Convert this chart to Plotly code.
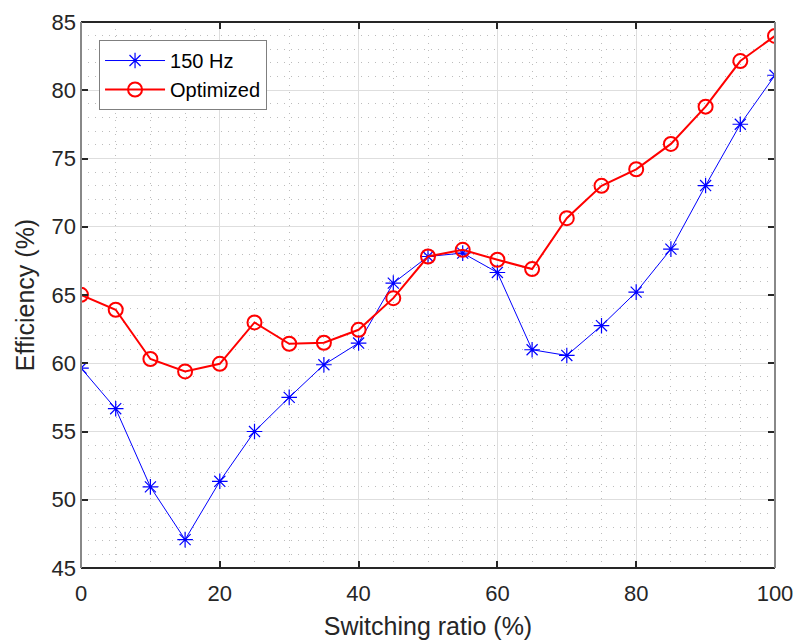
import plotly.graph_objects as go

ratio = [0, 5, 10, 15, 20, 25, 30, 35, 40, 45, 50, 55, 60, 65, 70, 75, 80, 85, 90, 95, 100]
eff_150hz = [59.65, 56.67, 50.94, 47.08, 51.35, 55.0, 57.5, 59.89, 61.48, 65.87, 67.82, 68.07,
             66.65, 60.99, 60.57, 62.75, 65.21, 68.36, 73.02, 77.51, 81.1]
eff_opt = [65.01, 63.92, 60.31, 59.4, 59.96, 62.99, 61.43, 61.5, 62.45, 64.77, 67.82, 68.31,
           67.58, 66.9, 70.63, 73.0, 74.21, 76.07, 78.8, 82.14, 83.98]
x_ticks = [0, 20, 40, 60, 80, 100]
y_ticks = [45, 50, 55, 60, 65, 70, 75, 80, 85]

font_family = "Liberation Sans, Arial, Helvetica, sans-serif"
dark = "#262626"

fig = go.Figure()
fig.add_trace(go.Scatter(
    x=ratio, y=eff_150hz, name="150 Hz", mode="lines+markers",
    line=dict(color="#0000ff", width=1),
    marker=dict(symbol="asterisk-open", size=13, color="#0000ff", line=dict(color="#0000ff", width=1.2)),
))
fig.add_trace(go.Scatter(
    x=ratio, y=eff_opt, name="Optimized", mode="lines+markers",
    line=dict(color="#ff0000", width=2),
    marker=dict(symbol="circle-open", size=14, color="#ff0000", line=dict(color="#ff0000", width=2)),
))

common = dict(
    showline=False, mirror=False, ticks="inside", ticklen=7, tickwidth=1.5, tickcolor=dark,
    showgrid=True, gridcolor="#dedede", gridwidth=1, zeroline=False, automargin=False,
    tickfont=dict(family=font_family, size=22, color=dark),
)
fig.update_xaxes(
    range=[0, 100], tickvals=x_ticks, ticklabelstandoff=10,
    title=dict(text="Switching ratio (%)", font=dict(family=font_family, size=25, color=dark), standoff=12),
    minor=dict(dtick=5, tick0=0, showgrid=True, griddash="1px,6px", gridcolor="#bcbcbc", gridwidth=1, ticks=""),
    **common,
)
fig.update_yaxes(
    range=[45, 85], tickvals=y_ticks, ticklabelstandoff=4,
    title=dict(text="Efficiency (%)", font=dict(family=font_family, size=25, color=dark), standoff=9),
    minor=dict(dtick=1, tick0=45, showgrid=True, griddash="1px,6px", gridcolor="#bcbcbc", gridwidth=1, ticks=""),
    **common,
)
# mirrored ticks on top/right via overlay axes
fig.update_layout(
    xaxis2=dict(overlaying="x", side="top", range=[0, 100], tickvals=x_ticks, showticklabels=False,
                ticks="inside", ticklen=7, tickwidth=1.5, tickcolor=dark, showgrid=False, zeroline=False,
                automargin=False),
    yaxis2=dict(overlaying="y", side="right", range=[45, 85], tickvals=y_ticks, showticklabels=False,
                ticks="inside", ticklen=7, tickwidth=1.5, tickcolor=dark, showgrid=False, zeroline=False,
                automargin=False),
)
fig.add_trace(go.Scatter(x=[None], y=[None], xaxis="x2", yaxis="y2", showlegend=False, hoverinfo="skip"))

# frame: dark top/bottom, gray left/right
fig.add_shape(type="line", xref="paper", yref="paper", x0=0, x1=1, y0=0, y1=0, line=dict(color=dark, width=2))
fig.add_shape(type="line", xref="paper", yref="paper", x0=0, x1=1, y0=1, y1=1, line=dict(color=dark, width=2))
fig.add_shape(type="line", xref="paper", yref="paper", x0=0, x1=0, y0=0, y1=1, line=dict(color="#888888", width=2))
fig.add_shape(type="line", xref="paper", yref="paper", x0=1, x1=1, y0=0, y1=1, line=dict(color="#888888", width=2))

fig.update_layout(
    width=795, height=643,
    margin=dict(l=81, r=20, t=22, b=75, autoexpand=False),
    paper_bgcolor="white", plot_bgcolor="white",
    font=dict(family=font_family, color=dark),
    legend=dict(
        x=0.026, y=0.967, xanchor="left", yanchor="top",
        bgcolor="white", bordercolor="#7f7f7f", borderwidth=1,
        font=dict(family=font_family, size=20, color="#000000"),
        itemwidth=60, tracegroupgap=0,
    ),
    showlegend=True,
)
fig.write_html("out.html")
